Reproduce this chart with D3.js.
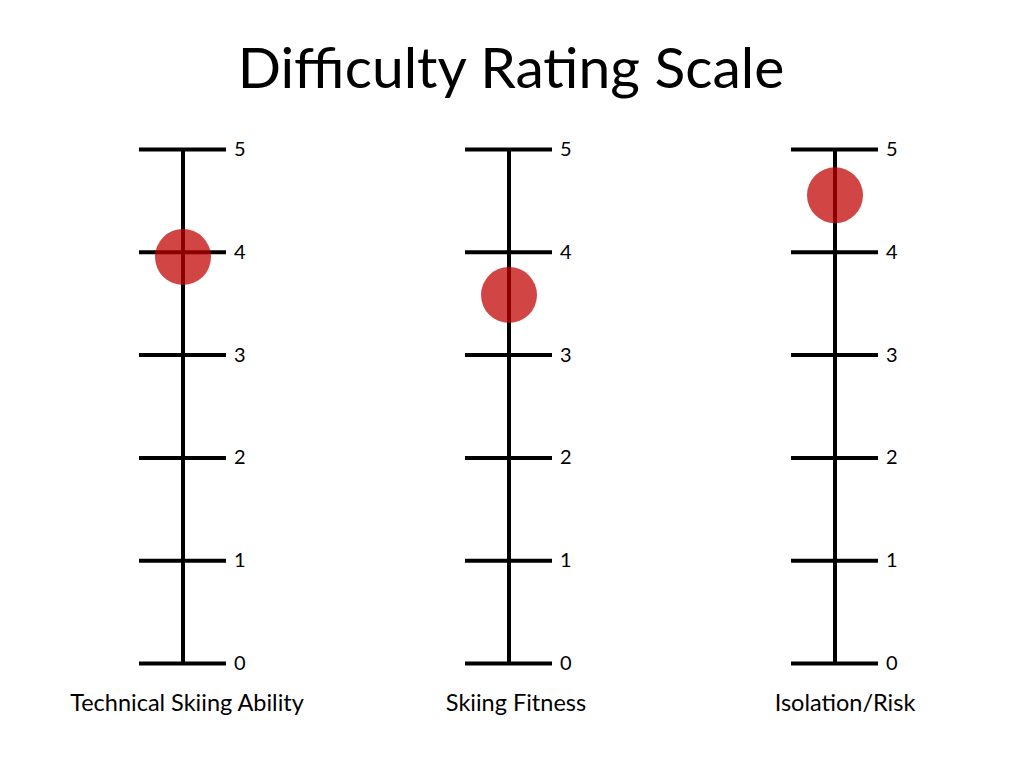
<!DOCTYPE html>
<html>
<head>
<meta charset="utf-8">
<script src="https://cdn.jsdelivr.net/npm/d3@7"></script>
<style>
  body { margin: 0; background: #fff; }
  svg text { font-family: Lato, "Open Sans", sans-serif; fill: #000; }
</style>
</head>
<body>
<svg id="chart" width="1024" height="768"></svg>
<script>
// data
var categories = ['Technical Skiing Ability', 'Skiing Fitness', 'Isolation/Risk'];
var ratings = [3.95, 3.58, 4.55];
var tickValues = [0, 1, 2, 3, 4, 5];
var title = 'Difficulty Rating Scale';

var svg = d3.select('#chart');

var x = d3.scalePoint()
    .domain(categories)
    .range([183, 835]);

var y = d3.scaleLinear()
    .domain([0, 5])
    .range([663, 149]);

svg.append('text')
    .attr('x', 511)
    .attr('y', 88)
    .attr('text-anchor', 'middle')
    .style('font-size', '57px')
    .text(title);

categories.forEach(function (cat, i) {
    var g = svg.append('g')
        .attr('transform', 'translate(' + x(cat) + ',0)');

    var axis = d3.axisRight(y)
        .tickValues(tickValues)
        .tickSize(43)
        .tickPadding(8)
        .tickFormat(d3.format('d'));

    g.call(axis);
    g.select('.domain').remove();
    g.selectAll('.tick line')
        .attr('x1', -44)
        .attr('stroke', '#000')
        .attr('stroke-width', 4);
    g.selectAll('.tick text')
        .style('font-size', '20px')
        .attr('font-family', null);

    g.append('line')
        .attr('y1', y(5))
        .attr('y2', y(0))
        .attr('stroke', '#000')
        .attr('stroke-width', 4);

    g.append('circle')
        .attr('cy', y(ratings[i]))
        .attr('r', 28)
        .attr('fill', '#c00000')
        .attr('fill-opacity', 0.73);

    svg.append('text')
        .attr('x', x(cat) + 4 + i * 3)
        .attr('y', 711)
        .attr('text-anchor', 'middle')
        .style('font-size', '23.5px')
        .text(cat);
});
</script>
</body>
</html>
